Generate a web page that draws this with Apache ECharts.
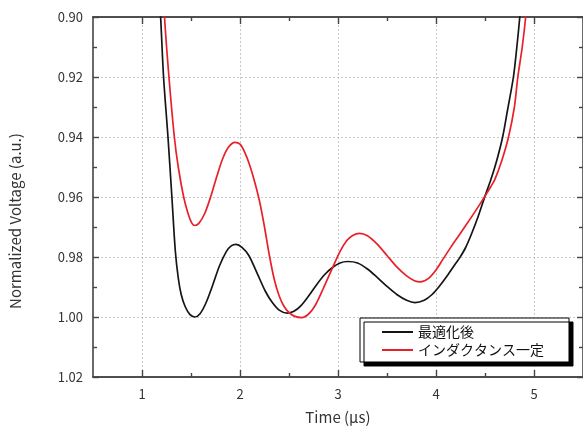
<!DOCTYPE html>
<html>
<head>
<meta charset="utf-8">
<script src="https://cdn.jsdelivr.net/npm/echarts@6/dist/echarts.min.js"></script>
<style>html,body{margin:0;padding:0;background:#fff}#c{width:583px;height:430px}</style>
</head>
<body>
<div id="c"></div>
<script>
// Series names
var seriesNames = ['最適化後', 'インダクタンス一定'];
// Black curve (最適化後): time (µs) and normalized voltage
var blackTime = [1.17, 1.19, 1.22, 1.265, 1.305, 1.34, 1.37, 1.40, 1.44, 1.49, 1.54, 1.59, 1.65, 1.72, 1.79, 1.86, 1.91, 1.96, 2.02, 2.09, 2.18, 2.26, 2.33, 2.40, 2.48, 2.55, 2.62, 2.70, 2.78, 2.86, 2.94, 3.02, 3.10, 3.20, 3.30, 3.40, 3.50, 3.60, 3.70, 3.785, 3.88, 3.96, 4.04, 4.12, 4.20, 4.243, 4.30, 4.36, 4.43, 4.50, 4.56, 4.62, 4.68, 4.73, 4.79, 4.825, 4.855, 4.88];
var blackVolt = [0.890, 0.900, 0.920, 0.940, 0.960, 0.978, 0.987, 0.9925, 0.9965, 0.9992, 1.0000, 0.9990, 0.9955, 0.9895, 0.9830, 0.9782, 0.9763, 0.9758, 0.9768, 0.9795, 0.9858, 0.9915, 0.9952, 0.9977, 0.9987, 0.9981, 0.9963, 0.9930, 0.9893, 0.9860, 0.9836, 0.9820, 0.9815, 0.9820, 0.9840, 0.9868, 0.9898, 0.9925, 0.9944, 0.9952, 0.9944, 0.9925, 0.9895, 0.9860, 0.9822, 0.9802, 0.9770, 0.9725, 0.9665, 0.9597, 0.9542, 0.9478, 0.9400, 0.9310, 0.9200, 0.9100, 0.9000, 0.8900];
// Red curve (インダクタンス一定)
var redTime = [1.22, 1.23, 1.275, 1.33, 1.37, 1.425, 1.47, 1.51, 1.54, 1.58, 1.64, 1.70, 1.76, 1.82, 1.88, 1.95, 2.00, 2.05, 2.10, 2.15, 2.20, 2.25, 2.30, 2.35, 2.40, 2.45, 2.50, 2.56, 2.63, 2.70, 2.77, 2.85, 2.94, 3.02, 3.09, 3.15, 3.22, 3.30, 3.40, 3.50, 3.60, 3.70, 3.78, 3.84, 3.92, 4.00, 4.07, 4.15, 4.23, 4.31, 4.40, 4.50, 4.56, 4.60, 4.67, 4.74, 4.80, 4.835, 4.88, 4.915, 4.94];
var redVolt = [0.890, 0.900, 0.920, 0.940, 0.950, 0.960, 0.9655, 0.9688, 0.9695, 0.9688, 0.9655, 0.9600, 0.9535, 0.9475, 0.9435, 0.9418, 0.9424, 0.9452, 0.9495, 0.9550, 0.9615, 0.9700, 0.9795, 0.9875, 0.9930, 0.9965, 0.9985, 0.9998, 1.0002, 0.9990, 0.9960, 0.9905, 0.9839, 0.9782, 0.9745, 0.9728, 0.9721, 0.9729, 0.9757, 0.9795, 0.9833, 0.9863, 0.9879, 0.9883, 0.9872, 0.9843, 0.9808, 0.9768, 0.9730, 0.9692, 0.9648, 0.9597, 0.9565, 0.9542, 0.9480, 0.9400, 0.9300, 0.9200, 0.9100, 0.9000, 0.8900];
// Axis ticks
var xMajorTicks = [1, 2, 3, 4, 5];
var xMinorTicks = [1.5, 2.5, 3.5, 4.5];
var xRange = [0.5, 5.5];
var yRange = [0.90, 1.02];
var yInterval = 0.02;

function zip(a, b) { return a.map(function (v, i) { return [v, b[i]]; }); }

var FONT = '"Noto Sans CJK JP", "Noto Sans", sans-serif';
var AXC = '#444';
var gridLine = { show: true, lineStyle: { color: '#c8c8c8', type: [2, 2], width: 1 } };

function xAx(pos, ticks, len, labels, split) {
  return {
    type: 'value', min: xRange[0], max: xRange[1], position: pos,
    axisLine: { show: true, onZero: false, lineStyle: { color: AXC, width: 1.6 } },
    axisTick: { show: true, inside: true, length: len, customValues: ticks, lineStyle: { color: AXC, width: 1.4 } },
    axisLabel: labels ? { show: true, customValues: ticks, fontSize: 13, color: '#333', fontFamily: FONT, margin: 11,
      formatter: function (v) { return String(v); } } : { show: false },
    splitLine: split ? gridLine : { show: false }
  };
}
function yAx(pos, labels) {
  return {
    type: 'value', inverse: true, min: yRange[0], max: yRange[1], interval: yInterval, position: pos,
    axisLine: { show: true, onZero: false, lineStyle: { color: AXC, width: 1.6 } },
    axisTick: { show: true, inside: true, length: 6, lineStyle: { color: AXC, width: 1.4 } },
    minorTick: { show: true, splitNumber: 2, length: 4, lineStyle: { color: AXC, width: 1.4 } },
    axisLabel: labels ? { show: true, fontSize: 13, color: '#333', fontFamily: FONT, margin: 10,
      formatter: function (v) { return v.toFixed(2); } } : { show: false },
    splitLine: labels ? gridLine : { show: false },
    name: labels ? 'Normalized Voltage (a.u.)' : '',
    nameLocation: 'middle', nameGap: 70, nameRotate: 90,
    nameTextStyle: { fontSize: 15, color: '#333', fontFamily: FONT, padding: [0, 48, 0, 0] }
  };
}

var xMain = xAx('bottom', xMajorTicks, 7, true, true);
xMain.name = 'Time (μs)';
xMain.nameLocation = 'middle';
xMain.nameGap = 33;
xMain.nameTextStyle = { fontSize: 15, color: '#333', fontFamily: FONT };

var chart = echarts.init(document.getElementById('c'), null, { renderer: 'canvas' });
chart.setOption({
  animation: false,
  backgroundColor: '#fff',
  grid: { left: 93, top: 17, width: 492, height: 361, containLabel: false },
  xAxis: [
    xMain,
    xAx('bottom', xMinorTicks, 4, false, false),
    xAx('top', xMajorTicks, 7, false, false),
    xAx('top', xMinorTicks, 4, false, false)
  ],
  yAxis: [yAx('left', true), yAx('right', false)],
  legend: {
    data: seriesNames.map(function (n) { return { name: n, icon: 'rect' }; }),
    orient: 'vertical', left: 360, top: 318,
    itemWidth: 31, itemHeight: 2, itemGap: 4, padding: [7, 25, 5, 22],
    backgroundColor: '#fff', borderColor: '#000', borderWidth: 1, borderRadius: 0,
    shadowColor: '#000', shadowOffsetX: 4, shadowOffsetY: 4, shadowBlur: 0,
    textStyle: { fontSize: 14, color: '#111', fontFamily: FONT }
  },
  series: [
    { name: seriesNames[0], type: 'line', data: zip(blackTime, blackVolt), xAxisIndex: 0, yAxisIndex: 0,
      symbol: 'none', showSymbol: false, smooth: 0.3, clip: true,
      lineStyle: { color: '#151515', width: 1.7 }, itemStyle: { color: '#151515' } },
    { name: seriesNames[1], type: 'line', data: zip(redTime, redVolt), xAxisIndex: 0, yAxisIndex: 0,
      symbol: 'none', showSymbol: false, smooth: 0.3, clip: true,
      lineStyle: { color: '#e8202a', width: 1.7 }, itemStyle: { color: '#e8202a' } }
  ]
});
</script>
</body>
</html>
